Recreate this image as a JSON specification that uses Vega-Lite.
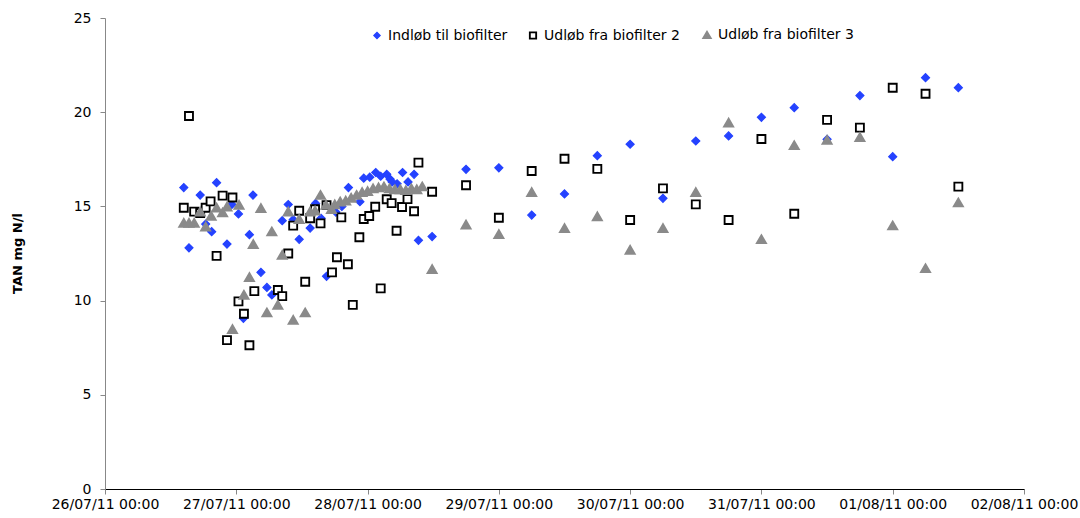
{
  "$schema": "https://vega.github.io/schema/vega-lite/v6.json",
  "width": 919,
  "height": 471,
  "autosize": "none",
  "padding": {"left": 105, "top": 18, "right": 56, "bottom": 29},
  "background": "white",
  "config": {"view": {"stroke": null}, "font": "DejaVu Sans"},
  "data": {"values": [
    {"time": "2011-07-26T14:24", "series": "Indløb til biofilter", "value": 16.0},
    {"time": "2011-07-26T15:21", "series": "Indløb til biofilter", "value": 12.8},
    {"time": "2011-07-26T17:24", "series": "Indløb til biofilter", "value": 15.6},
    {"time": "2011-07-26T18:24", "series": "Indløb til biofilter", "value": 14.06},
    {"time": "2011-07-26T19:30", "series": "Indløb til biofilter", "value": 13.66},
    {"time": "2011-07-26T20:24", "series": "Indløb til biofilter", "value": 16.26},
    {"time": "2011-07-26T22:18", "series": "Indløb til biofilter", "value": 13.0},
    {"time": "2011-07-26T23:12", "series": "Indløb til biofilter", "value": 15.1},
    {"time": "2011-07-27T00:24", "series": "Indløb til biofilter", "value": 14.6},
    {"time": "2011-07-27T01:18", "series": "Indløb til biofilter", "value": 9.06},
    {"time": "2011-07-27T02:24", "series": "Indløb til biofilter", "value": 13.5},
    {"time": "2011-07-27T03:03", "series": "Indløb til biofilter", "value": 15.6},
    {"time": "2011-07-27T04:30", "series": "Indløb til biofilter", "value": 11.5},
    {"time": "2011-07-27T05:36", "series": "Indløb til biofilter", "value": 10.7},
    {"time": "2011-07-27T06:30", "series": "Indløb til biofilter", "value": 10.3},
    {"time": "2011-07-27T08:24", "series": "Indløb til biofilter", "value": 14.24},
    {"time": "2011-07-27T09:30", "series": "Indløb til biofilter", "value": 15.1},
    {"time": "2011-07-27T10:24", "series": "Indløb til biofilter", "value": 14.3},
    {"time": "2011-07-27T11:30", "series": "Indløb til biofilter", "value": 13.25},
    {"time": "2011-07-27T13:30", "series": "Indløb til biofilter", "value": 13.85},
    {"time": "2011-07-27T14:30", "series": "Indløb til biofilter", "value": 15.16},
    {"time": "2011-07-27T15:30", "series": "Indløb til biofilter", "value": 14.37},
    {"time": "2011-07-27T16:30", "series": "Indløb til biofilter", "value": 11.29},
    {"time": "2011-07-27T18:12", "series": "Indløb til biofilter", "value": 14.7},
    {"time": "2011-07-27T19:18", "series": "Indløb til biofilter", "value": 15.0},
    {"time": "2011-07-27T20:30", "series": "Indløb til biofilter", "value": 16.0},
    {"time": "2011-07-27T22:36", "series": "Indløb til biofilter", "value": 15.25},
    {"time": "2011-07-27T23:18", "series": "Indløb til biofilter", "value": 16.5},
    {"time": "2011-07-28T00:24", "series": "Indløb til biofilter", "value": 16.55},
    {"time": "2011-07-28T01:30", "series": "Indløb til biofilter", "value": 16.8},
    {"time": "2011-07-28T02:24", "series": "Indløb til biofilter", "value": 16.6},
    {"time": "2011-07-28T03:30", "series": "Indløb til biofilter", "value": 16.7},
    {"time": "2011-07-28T04:06", "series": "Indløb til biofilter", "value": 16.45},
    {"time": "2011-07-28T04:30", "series": "Indløb til biofilter", "value": 16.3},
    {"time": "2011-07-28T05:24", "series": "Indløb til biofilter", "value": 16.2},
    {"time": "2011-07-28T06:24", "series": "Indløb til biofilter", "value": 16.8},
    {"time": "2011-07-28T07:24", "series": "Indløb til biofilter", "value": 16.3},
    {"time": "2011-07-28T08:30", "series": "Indløb til biofilter", "value": 16.7},
    {"time": "2011-07-28T09:18", "series": "Indløb til biofilter", "value": 13.2},
    {"time": "2011-07-28T11:48", "series": "Indløb til biofilter", "value": 13.4},
    {"time": "2011-07-28T18:00", "series": "Indløb til biofilter", "value": 16.97},
    {"time": "2011-07-29T00:00", "series": "Indløb til biofilter", "value": 17.05},
    {"time": "2011-07-29T06:00", "series": "Indløb til biofilter", "value": 14.54},
    {"time": "2011-07-29T12:00", "series": "Indløb til biofilter", "value": 15.66},
    {"time": "2011-07-29T18:00", "series": "Indløb til biofilter", "value": 17.69},
    {"time": "2011-07-30T00:00", "series": "Indløb til biofilter", "value": 18.3},
    {"time": "2011-07-30T06:00", "series": "Indløb til biofilter", "value": 15.43},
    {"time": "2011-07-30T12:00", "series": "Indløb til biofilter", "value": 18.47},
    {"time": "2011-07-30T18:00", "series": "Indløb til biofilter", "value": 18.74},
    {"time": "2011-07-31T00:00", "series": "Indløb til biofilter", "value": 19.73},
    {"time": "2011-07-31T06:00", "series": "Indløb til biofilter", "value": 20.24},
    {"time": "2011-07-31T12:00", "series": "Indløb til biofilter", "value": 18.56},
    {"time": "2011-07-31T18:00", "series": "Indløb til biofilter", "value": 20.88},
    {"time": "2011-08-01T00:00", "series": "Indløb til biofilter", "value": 17.64},
    {"time": "2011-08-01T06:00", "series": "Indløb til biofilter", "value": 21.83},
    {"time": "2011-08-01T12:00", "series": "Indløb til biofilter", "value": 21.3},

    {"time": "2011-07-26T14:24", "series": "Udløb fra biofilter 2", "value": 14.93},
    {"time": "2011-07-26T15:21", "series": "Udløb fra biofilter 2", "value": 19.8},
    {"time": "2011-07-26T16:18", "series": "Udløb fra biofilter 2", "value": 14.72},
    {"time": "2011-07-26T17:24", "series": "Udløb fra biofilter 2", "value": 14.65},
    {"time": "2011-07-26T18:24", "series": "Udløb fra biofilter 2", "value": 14.93},
    {"time": "2011-07-26T19:18", "series": "Udløb fra biofilter 2", "value": 15.27},
    {"time": "2011-07-26T20:24", "series": "Udløb fra biofilter 2", "value": 12.37},
    {"time": "2011-07-26T21:30", "series": "Udløb fra biofilter 2", "value": 15.57},
    {"time": "2011-07-26T22:18", "series": "Udløb fra biofilter 2", "value": 7.9},
    {"time": "2011-07-26T23:18", "series": "Udløb fra biofilter 2", "value": 15.47},
    {"time": "2011-07-27T00:24", "series": "Udløb fra biofilter 2", "value": 9.96},
    {"time": "2011-07-27T01:24", "series": "Udløb fra biofilter 2", "value": 9.3},
    {"time": "2011-07-27T02:24", "series": "Udløb fra biofilter 2", "value": 7.63},
    {"time": "2011-07-27T03:18", "series": "Udløb fra biofilter 2", "value": 10.5},
    {"time": "2011-07-27T07:36", "series": "Udløb fra biofilter 2", "value": 10.56},
    {"time": "2011-07-27T08:24", "series": "Udløb fra biofilter 2", "value": 10.24},
    {"time": "2011-07-27T09:30", "series": "Udløb fra biofilter 2", "value": 12.5},
    {"time": "2011-07-27T10:24", "series": "Udløb fra biofilter 2", "value": 13.98},
    {"time": "2011-07-27T11:30", "series": "Udløb fra biofilter 2", "value": 14.77},
    {"time": "2011-07-27T12:36", "series": "Udløb fra biofilter 2", "value": 11.0},
    {"time": "2011-07-27T13:30", "series": "Udløb fra biofilter 2", "value": 14.37},
    {"time": "2011-07-27T14:24", "series": "Udløb fra biofilter 2", "value": 14.85},
    {"time": "2011-07-27T15:24", "series": "Udløb fra biofilter 2", "value": 14.1},
    {"time": "2011-07-27T16:30", "series": "Udløb fra biofilter 2", "value": 15.07},
    {"time": "2011-07-27T17:30", "series": "Udløb fra biofilter 2", "value": 11.5},
    {"time": "2011-07-27T18:24", "series": "Udløb fra biofilter 2", "value": 12.3},
    {"time": "2011-07-27T19:12", "series": "Udløb fra biofilter 2", "value": 14.42},
    {"time": "2011-07-27T20:24", "series": "Udløb fra biofilter 2", "value": 11.93},
    {"time": "2011-07-27T21:18", "series": "Udløb fra biofilter 2", "value": 9.77},
    {"time": "2011-07-27T22:30", "series": "Udløb fra biofilter 2", "value": 13.36},
    {"time": "2011-07-27T23:18", "series": "Udløb fra biofilter 2", "value": 14.33},
    {"time": "2011-07-28T00:18", "series": "Udløb fra biofilter 2", "value": 14.49},
    {"time": "2011-07-28T01:24", "series": "Udløb fra biofilter 2", "value": 14.98},
    {"time": "2011-07-28T02:24", "series": "Udløb fra biofilter 2", "value": 10.65},
    {"time": "2011-07-28T03:30", "series": "Udløb fra biofilter 2", "value": 15.38},
    {"time": "2011-07-28T04:24", "series": "Udløb fra biofilter 2", "value": 15.17},
    {"time": "2011-07-28T05:18", "series": "Udløb fra biofilter 2", "value": 13.71},
    {"time": "2011-07-28T06:18", "series": "Udløb fra biofilter 2", "value": 14.97},
    {"time": "2011-07-28T07:18", "series": "Udløb fra biofilter 2", "value": 15.39},
    {"time": "2011-07-28T08:30", "series": "Udløb fra biofilter 2", "value": 14.74},
    {"time": "2011-07-28T09:18", "series": "Udløb fra biofilter 2", "value": 17.32},
    {"time": "2011-07-28T11:48", "series": "Udløb fra biofilter 2", "value": 15.78},
    {"time": "2011-07-28T18:00", "series": "Udløb fra biofilter 2", "value": 16.12},
    {"time": "2011-07-29T00:00", "series": "Udløb fra biofilter 2", "value": 14.4},
    {"time": "2011-07-29T06:00", "series": "Udløb fra biofilter 2", "value": 16.88},
    {"time": "2011-07-29T12:00", "series": "Udløb fra biofilter 2", "value": 17.53},
    {"time": "2011-07-29T18:00", "series": "Udløb fra biofilter 2", "value": 16.99},
    {"time": "2011-07-30T00:00", "series": "Udløb fra biofilter 2", "value": 14.28},
    {"time": "2011-07-30T06:00", "series": "Udløb fra biofilter 2", "value": 15.96},
    {"time": "2011-07-30T12:00", "series": "Udløb fra biofilter 2", "value": 15.11},
    {"time": "2011-07-30T18:00", "series": "Udløb fra biofilter 2", "value": 14.28},
    {"time": "2011-07-31T00:00", "series": "Udløb fra biofilter 2", "value": 18.58},
    {"time": "2011-07-31T06:00", "series": "Udløb fra biofilter 2", "value": 14.61},
    {"time": "2011-07-31T12:00", "series": "Udløb fra biofilter 2", "value": 19.59},
    {"time": "2011-07-31T18:00", "series": "Udløb fra biofilter 2", "value": 19.18},
    {"time": "2011-08-01T00:00", "series": "Udløb fra biofilter 2", "value": 21.3},
    {"time": "2011-08-01T06:00", "series": "Udløb fra biofilter 2", "value": 20.98},
    {"time": "2011-08-01T12:00", "series": "Udløb fra biofilter 2", "value": 16.05},

    {"time": "2011-07-26T14:24", "series": "Udløb fra biofilter 3", "value": 14.12},
    {"time": "2011-07-26T15:21", "series": "Udløb fra biofilter 3", "value": 14.12},
    {"time": "2011-07-26T16:18", "series": "Udløb fra biofilter 3", "value": 14.12},
    {"time": "2011-07-26T17:24", "series": "Udløb fra biofilter 3", "value": 14.72},
    {"time": "2011-07-26T18:24", "series": "Udløb fra biofilter 3", "value": 13.92},
    {"time": "2011-07-26T19:24", "series": "Udløb fra biofilter 3", "value": 14.49},
    {"time": "2011-07-26T20:24", "series": "Udløb fra biofilter 3", "value": 14.93},
    {"time": "2011-07-26T21:30", "series": "Udløb fra biofilter 3", "value": 14.67},
    {"time": "2011-07-26T22:18", "series": "Udløb fra biofilter 3", "value": 14.98},
    {"time": "2011-07-26T23:18", "series": "Udløb fra biofilter 3", "value": 8.48},
    {"time": "2011-07-27T00:30", "series": "Udløb fra biofilter 3", "value": 15.07},
    {"time": "2011-07-27T01:24", "series": "Udløb fra biofilter 3", "value": 10.3},
    {"time": "2011-07-27T02:24", "series": "Udløb fra biofilter 3", "value": 11.24},
    {"time": "2011-07-27T03:06", "series": "Udløb fra biofilter 3", "value": 12.99},
    {"time": "2011-07-27T04:30", "series": "Udløb fra biofilter 3", "value": 14.9},
    {"time": "2011-07-27T05:36", "series": "Udløb fra biofilter 3", "value": 9.36},
    {"time": "2011-07-27T06:30", "series": "Udløb fra biofilter 3", "value": 13.66},
    {"time": "2011-07-27T07:36", "series": "Udløb fra biofilter 3", "value": 9.77},
    {"time": "2011-07-27T08:24", "series": "Udløb fra biofilter 3", "value": 12.42},
    {"time": "2011-07-27T09:30", "series": "Udløb fra biofilter 3", "value": 14.72},
    {"time": "2011-07-27T10:24", "series": "Udløb fra biofilter 3", "value": 8.97},
    {"time": "2011-07-27T11:30", "series": "Udløb fra biofilter 3", "value": 14.32},
    {"time": "2011-07-27T12:36", "series": "Udløb fra biofilter 3", "value": 9.36},
    {"time": "2011-07-27T13:30", "series": "Udløb fra biofilter 3", "value": 14.72},
    {"time": "2011-07-27T14:24", "series": "Udløb fra biofilter 3", "value": 14.77},
    {"time": "2011-07-27T15:24", "series": "Udløb fra biofilter 3", "value": 15.6},
    {"time": "2011-07-27T16:24", "series": "Udløb fra biofilter 3", "value": 15.07},
    {"time": "2011-07-27T17:24", "series": "Udløb fra biofilter 3", "value": 14.85},
    {"time": "2011-07-27T18:00", "series": "Udløb fra biofilter 3", "value": 15.1},
    {"time": "2011-07-27T19:00", "series": "Udløb fra biofilter 3", "value": 15.25},
    {"time": "2011-07-27T20:00", "series": "Udløb fra biofilter 3", "value": 15.3},
    {"time": "2011-07-27T21:00", "series": "Udløb fra biofilter 3", "value": 15.45},
    {"time": "2011-07-27T22:00", "series": "Udløb fra biofilter 3", "value": 15.6},
    {"time": "2011-07-27T23:00", "series": "Udløb fra biofilter 3", "value": 15.75},
    {"time": "2011-07-28T00:00", "series": "Udløb fra biofilter 3", "value": 15.8},
    {"time": "2011-07-28T01:00", "series": "Udløb fra biofilter 3", "value": 15.95},
    {"time": "2011-07-28T02:00", "series": "Udløb fra biofilter 3", "value": 16.0},
    {"time": "2011-07-28T03:00", "series": "Udløb fra biofilter 3", "value": 16.05},
    {"time": "2011-07-28T04:00", "series": "Udløb fra biofilter 3", "value": 15.95},
    {"time": "2011-07-28T05:00", "series": "Udløb fra biofilter 3", "value": 15.9},
    {"time": "2011-07-28T06:00", "series": "Udløb fra biofilter 3", "value": 15.9},
    {"time": "2011-07-28T07:00", "series": "Udløb fra biofilter 3", "value": 15.85},
    {"time": "2011-07-28T08:00", "series": "Udløb fra biofilter 3", "value": 15.95},
    {"time": "2011-07-28T09:00", "series": "Udløb fra biofilter 3", "value": 15.9},
    {"time": "2011-07-28T10:00", "series": "Udløb fra biofilter 3", "value": 16.05},
    {"time": "2011-07-28T11:48", "series": "Udløb fra biofilter 3", "value": 11.66},
    {"time": "2011-07-28T18:00", "series": "Udløb fra biofilter 3", "value": 14.03},
    {"time": "2011-07-29T00:00", "series": "Udløb fra biofilter 3", "value": 13.52},
    {"time": "2011-07-29T06:00", "series": "Udløb fra biofilter 3", "value": 15.75},
    {"time": "2011-07-29T12:00", "series": "Udløb fra biofilter 3", "value": 13.84},
    {"time": "2011-07-29T18:00", "series": "Udløb fra biofilter 3", "value": 14.46},
    {"time": "2011-07-30T00:00", "series": "Udløb fra biofilter 3", "value": 12.69},
    {"time": "2011-07-30T06:00", "series": "Udløb fra biofilter 3", "value": 13.84},
    {"time": "2011-07-30T12:00", "series": "Udløb fra biofilter 3", "value": 15.75},
    {"time": "2011-07-30T18:00", "series": "Udløb fra biofilter 3", "value": 19.44},
    {"time": "2011-07-31T00:00", "series": "Udløb fra biofilter 3", "value": 13.25},
    {"time": "2011-07-31T06:00", "series": "Udløb fra biofilter 3", "value": 18.24},
    {"time": "2011-07-31T12:00", "series": "Udløb fra biofilter 3", "value": 18.52},
    {"time": "2011-07-31T18:00", "series": "Udløb fra biofilter 3", "value": 18.67},
    {"time": "2011-08-01T00:00", "series": "Udløb fra biofilter 3", "value": 13.98},
    {"time": "2011-08-01T06:00", "series": "Udløb fra biofilter 3", "value": 11.71},
    {"time": "2011-08-01T12:00", "series": "Udløb fra biofilter 3", "value": 15.2}
  ]},
  "mark": {"type": "point", "size": 64, "opacity": 1, "fillOpacity": 1},
  "encoding": {
    "x": {
      "field": "time", "type": "temporal",
      "scale": {"domain": [{"year": 2011, "month": 7, "date": 26}, {"year": 2011, "month": 8, "date": 2}], "nice": false},
      "axis": {
        "title": null, "format": "%d/%m/%y %H:%M", "tickCount": {"interval": "day", "step": 1},
        "grid": false, "labelFlush": false, "labelOverlap": false,
        "domainColor": "#000000", "domainWidth": 1, "tickColor": "#888888", "tickSize": 5,
        "labelFont": "DejaVu Sans", "labelFontSize": 14, "labelColor": "#000000", "labelPadding": 3
      }
    },
    "y": {
      "field": "value", "type": "quantitative",
      "scale": {"domain": [0, 25], "nice": false, "zero": true},
      "axis": {
        "title": "TAN mg N/l", "values": [0, 5, 10, 15, 20, 25], "grid": false,
        "domainColor": "#888888", "tickColor": "#888888", "tickSize": 5,
        "labelFont": "DejaVu Sans", "labelFontSize": 14, "labelColor": "#000000", "labelPadding": 9,
        "titleFont": "DejaVu Sans", "titleFontSize": 13, "titleFontWeight": "bold", "titleColor": "#000000",
        "titleX": -88, "titleY": 235, "titleAngle": 270, "titleAlign": "center", "titleBaseline": "middle"
      }
    },
    "shape": {
      "field": "series", "type": "nominal",
      "scale": {"domain": ["Indløb til biofilter", "Udløb fra biofilter 2", "Udløb fra biofilter 3"], "range": ["diamond", "square", "triangle-up"]},
      "legend": {
        "title": null, "orient": "none", "direction": "horizontal", "legendX": 265, "legendY": 10,
        "labelFont": "DejaVu Sans", "labelFontSize": 14, "labelColor": "#000000",
        "symbolSize": 40, "symbolStrokeWidth": 1, "labelOffset": 4, "columnPadding": 18
      }
    },
    "fill": {
      "field": "series", "type": "nominal",
      "scale": {"domain": ["Indløb til biofilter", "Udløb fra biofilter 2", "Udløb fra biofilter 3"], "range": ["#2442ff", "#ffffff", "#8a8a8a"]},
      "legend": null
    },
    "stroke": {
      "field": "series", "type": "nominal",
      "scale": {"domain": ["Indløb til biofilter", "Udløb fra biofilter 2", "Udløb fra biofilter 3"], "range": ["#2442ff", "#000000", "#8a8a8a"]},
      "legend": null
    },
    "strokeWidth": {
      "field": "series", "type": "nominal",
      "scale": {"domain": ["Indløb til biofilter", "Udløb fra biofilter 2", "Udløb fra biofilter 3"], "range": [1.2, 2.5, 1]},
      "legend": null
    }
  }
}
